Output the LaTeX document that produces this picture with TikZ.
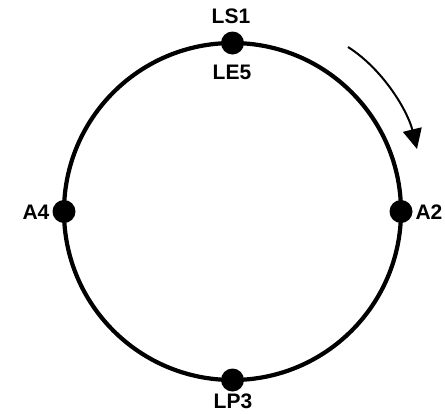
\documentclass[tikz,border=0pt]{standalone}
\usepackage{fontspec}
\setmainfont{Liberation Sans}
\usetikzlibrary{arrows.meta}
\begin{document}
\begin{tikzpicture}[x=1pt,y=-1pt,
  station/.style={circle,fill=black,inner sep=0pt,minimum size=23pt},
  lbl/.style={font=\bfseries\fontsize{21}{21}\selectfont,inner sep=0pt}]
\useasboundingbox (0,0) rectangle (445,413);
% ring
\coordinate (c) at (232.5,211.5);
\draw[line width=4.2pt] (c) circle[radius=168.5];
% stations on the ring
\node[station] (top) at (232.5,43) {};
\node[station] (left) at (64,211.5) {};
\node[station] (right) at (401,211.5) {};
\node[station] (bottom) at (232.5,380) {};
% labels
\node[lbl] (ls1) at (231,16) {LS1};
\node[lbl] (le5) at (232,72) {LE5};
\node[lbl] (a4) at (36,212) {A4};
\node[lbl] (a2) at (429,212) {A2};
\node[lbl] (lp3) at (233,401) {LP3};
% direction of travel
\coordinate (from) at (348,47);
\coordinate (to) at (417,149);
\draw[line width=2pt,-{Triangle[length=20pt,width=19pt]}]
  (from) .. controls (384,70) and (408,112) .. (to);
\end{tikzpicture}
\end{document}
